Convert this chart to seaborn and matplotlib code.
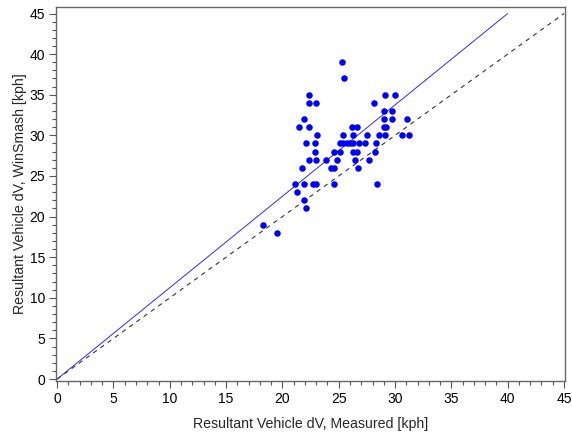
import matplotlib
matplotlib.use("Agg")
import matplotlib.pyplot as plt
import seaborn as sns
import pandas as pd
import numpy as np
from matplotlib.ticker import MultipleLocator

# Measured vs WinSmash resultant dV (kph)
measured = [
    25.3,
    25.5,
    22.4, 29.1, 30.0,
    22.4, 23.0, 28.1,
    29.0, 29.7,
    21.9, 29.0, 29.7, 31.1,
    21.5, 22.4, 26.2, 26.6, 29.0, 29.2,
    23.05, 25.4, 26.3, 27.5, 28.6, 29.15, 30.65, 31.25,
    22.1, 22.9, 25.1, 25.4, 25.7, 26.0, 26.3, 26.8, 27.3, 28.3,
    22.9, 24.6, 25.15, 26.3, 26.6, 28.2,
    22.4, 22.96, 23.9, 24.85, 26.4, 27.7,
    21.7, 24.3, 24.6, 26.7,
    21.1, 21.9, 22.7, 23.0, 24.6, 28.4,
    21.3,
    21.9,
    22.1,
    18.3,
    19.5,
]
winsmash = [
    39,
    37,
    35, 35, 35,
    34, 34, 34,
    33, 33,
    32, 32, 32, 32,
    31, 31, 31, 31, 31, 31,
    30, 30, 30, 30, 30, 30, 30, 30,
    29, 29, 29, 29, 29, 29, 29, 29, 29, 29,
    28, 28, 28, 28, 28, 28,
    27, 27, 27, 27, 27, 27,
    26, 26, 26, 26,
    24, 24, 24, 24, 24, 24,
    23,
    22,
    21,
    19,
    18,
]

# Fit line (through origin) and identity line
fit_x = [0, 40]
fit_y = [0, 45]
ident_x = [0, 45]
ident_y = [0, 45]

x_ticks = [0, 5, 10, 15, 20, 25, 30, 35, 40, 45]
y_ticks = [0, 5, 10, 15, 20, 25, 30, 35, 40, 45]

sns.set_style("ticks")
plt.rcParams['font.family'] = ['Liberation Sans', 'DejaVu Sans']

fig = plt.figure(figsize=(5.72, 4.38), dpi=100)
ax = fig.add_axes([0.098, 0.130, 0.889, 0.854])

df = pd.DataFrame({"measured": measured, "winsmash": winsmash})
fit_df = pd.DataFrame({"x": fit_x, "y": fit_y})
id_df = pd.DataFrame({"x": ident_x, "y": ident_y})

sns.lineplot(data=fit_df, x="x", y="y", ax=ax, color="#2a2aff", linewidth=0.7)
sns.lineplot(data=id_df, x="x", y="y", ax=ax, color="#333333", linewidth=0.8,
             linestyle=(0, (4, 4)))
sns.scatterplot(data=df, x="measured", y="winsmash", ax=ax, color="#0000ff",
                s=22, edgecolor="#0000ff", linewidth=0, zorder=3)

ax.set_xlim(-0.1, 45.05)
ax.set_ylim(-0.25, 45.8)
ax.set_xticks(x_ticks)
ax.set_yticks(y_ticks)
ax.xaxis.set_minor_locator(MultipleLocator(1))
ax.yaxis.set_minor_locator(MultipleLocator(1))
ax.tick_params(which="major", direction="out", length=5, width=0.8, color="#555555",
               labelsize=10, pad=3, labelcolor="black")
ax.tick_params(which="minor", direction="out", length=3, width=0.8, color="#555555")

for s in ax.spines.values():
    s.set_visible(True)
    s.set_color("#666666")
    s.set_linewidth(1.0)

ax.set_xlabel("Resultant Vehicle dV, Measured [kph]", fontsize=10.2, labelpad=8)
ax.set_ylabel("Resultant Vehicle dV, WinSmash [kph]", fontsize=10.2, labelpad=2)

fig.savefig("out.png", dpi=100)
